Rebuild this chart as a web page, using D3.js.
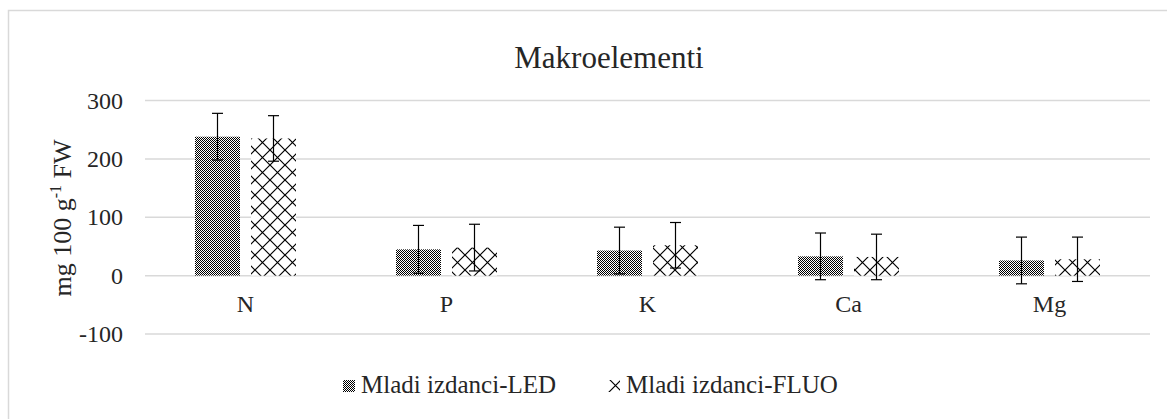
<!DOCTYPE html>
<html>
<head>
<meta charset="utf-8">
<script src="https://cdn.jsdelivr.net/npm/d3@7"></script>
<style>
  body { margin: 0; background: #fff; }
  text { font-family: "Liberation Serif", "Times New Roman", serif; fill: #262626; }
</style>
</head>
<body>
<svg></svg>
<script>
let categories = ["N", "P", "K", "Ca", "Mg"];
let seriesNames = ["Mladi izdanci-LED", "Mladi izdanci-FLUO"];
let ledValues = [238, 45, 43, 33, 26];
let ledErrors = [40, 41, 40, 40, 40];
let fluoValues = [235, 48, 52, 32, 28];
let fluoErrors = [39, 40, 39, 39, 38];
let yTicks = [-100, 0, 100, 200, 300];

let width = 1167;
let height = 419;
let plot = { left: 145, right: 1150, top: 100.5, bottom: 334 };

let svg = d3.select("svg")
    .attr("width", width)
    .attr("height", height);

let defs = svg.append("defs");

// small checker for LED
let pLed = defs.append("pattern")
    .attr("id", "pat-led")
    .attr("patternUnits", "userSpaceOnUse")
    .attr("width", 2).attr("height", 2);
pLed.append("rect").attr("width", 2).attr("height", 2).attr("fill", "#fff");
pLed.append("rect").attr("x", 0).attr("y", 0).attr("width", 1).attr("height", 1).attr("fill", "#000");
pLed.append("rect").attr("x", 1).attr("y", 1).attr("width", 1).attr("height", 1).attr("fill", "#000");

// diamond lattice for FLUO
let pFluo = defs.append("pattern")
    .attr("id", "pat-fluo")
    .attr("patternUnits", "userSpaceOnUse")
    .attr("width", 15).attr("height", 15);
pFluo.append("rect").attr("width", 15).attr("height", 15).attr("fill", "#fff");
pFluo.append("path")
    .attr("d", "M0,0L15,15M15,0L0,15")
    .attr("stroke", "#000")
    .attr("stroke-width", 1.2);

// chart area border
svg.append("rect")
    .attr("x", 8.5).attr("y", 10.5)
    .attr("width", 1250).attr("height", 500)
    .attr("fill", "#fff")
    .attr("stroke", "#d9d9d9")
    .attr("stroke-width", 1.5);

let xScale = d3.scaleBand()
    .domain(categories)
    .range([plot.left, plot.right]);

let yScale = d3.scaleLinear()
    .domain([-100, 300])
    .range([plot.bottom, plot.top]);

let barW = 45, gap = 11;
let step = barW + gap;
let pIn = gap / step;
let pOut = (xScale.bandwidth() / step - 2 + pIn) / 2;
let x1 = d3.scaleBand()
    .domain([0, 1])
    .range([0, xScale.bandwidth()])
    .paddingInner(pIn)
    .paddingOuter(pOut);

// gridlines
svg.append("g")
    .selectAll("line")
    .data(yTicks)
    .enter()
    .append("line")
    .attr("x1", plot.left)
    .attr("x2", plot.right)
    .attr("y1", d => yScale(d))
    .attr("y2", d => yScale(d))
    .attr("stroke", "#d9d9d9")
    .attr("stroke-width", 1.5);

// y axis labels
let yAxis = d3.axisLeft(yScale)
    .tickValues(yTicks)
    .tickFormat(d => String(d))
    .tickSize(0)
    .tickPadding(22);
let gy = svg.append("g")
    .attr("transform", `translate(${plot.left},0)`)
    .call(yAxis);
gy.select(".domain").remove();
gy.selectAll("text")
    .style("font-size", "24px")
    .style("font-family", "Liberation Serif")
    .attr("fill", "#262626");

// category labels
let xAxis = d3.axisBottom(xScale).tickSize(0).tickPadding(19);
let gx = svg.append("g")
    .attr("transform", `translate(0,${yScale(0)})`)
    .call(xAxis);
gx.select(".domain").remove();
gx.selectAll("text")
    .style("font-size", "24px")
    .style("font-family", "Liberation Serif")
    .attr("fill", "#262626");

let series = [
    { name: seriesNames[0], values: ledValues, errors: ledErrors, fill: "url(#pat-led)" },
    { name: seriesNames[1], values: fluoValues, errors: fluoErrors, fill: "url(#pat-fluo)" }
];

series.forEach((s, si) => {
    let rows = categories.map((c, i) => ({ cat: c, v: s.values[i], e: s.errors[i] }));
    let g = svg.append("g");
    g.selectAll("rect")
        .data(rows)
        .enter()
        .append("rect")
        .attr("x", d => xScale(d.cat) + x1(si))
        .attr("width", x1.bandwidth())
        .attr("y", d => yScale(Math.max(0, d.v)))
        .attr("height", d => Math.abs(yScale(d.v) - yScale(0)))
        .attr("fill", s.fill);

    let eb = svg.append("g").attr("stroke", "#000").attr("stroke-width", 1.2);
    let cx = d => xScale(d.cat) + x1(si) + x1.bandwidth() / 2;
    eb.selectAll(".v")
        .data(rows).enter().append("line")
        .attr("x1", cx).attr("x2", cx)
        .attr("y1", d => yScale(d.v + d.e))
        .attr("y2", d => yScale(d.v - d.e));
    eb.selectAll(".t")
        .data(rows).enter().append("line")
        .attr("x1", d => cx(d) - 5.5).attr("x2", d => cx(d) + 5.5)
        .attr("y1", d => yScale(d.v + d.e)).attr("y2", d => yScale(d.v + d.e));
    eb.selectAll(".b")
        .data(rows).enter().append("line")
        .attr("x1", d => cx(d) - 5.5).attr("x2", d => cx(d) + 5.5)
        .attr("y1", d => yScale(d.v - d.e)).attr("y2", d => yScale(d.v - d.e));
});

// title
svg.append("text")
    .attr("x", 609)
    .attr("y", 68)
    .attr("text-anchor", "middle")
    .style("font-size", "31px")
    .text("Makroelementi");

// y axis title
let yt = svg.append("text")
    .attr("transform", `translate(71,${218}) rotate(-90)`)
    .attr("text-anchor", "middle")
    .style("font-size", "26px");
yt.append("tspan").text("mg 100 g");
yt.append("tspan").attr("dy", -10).style("font-size", "16px").text("-1");
yt.append("tspan").attr("dy", 10).text(" FW");

// legend
let legend = svg.append("g").attr("transform", "translate(343,393)");
let legX = [0, 265];
series.forEach((s, i) => {
    let lg = legend.append("g").attr("transform", `translate(${legX[i]},0)`);
    lg.append("rect")
        .attr("x", 0).attr("y", -13)
        .attr("width", 12).attr("height", 12)
        .attr("fill", s.fill);
    lg.append("text")
        .attr("x", 18)
        .attr("y", 0)
        .style("font-size", "25px")
        .text(s.name);
});
</script>
</body>
</html>
